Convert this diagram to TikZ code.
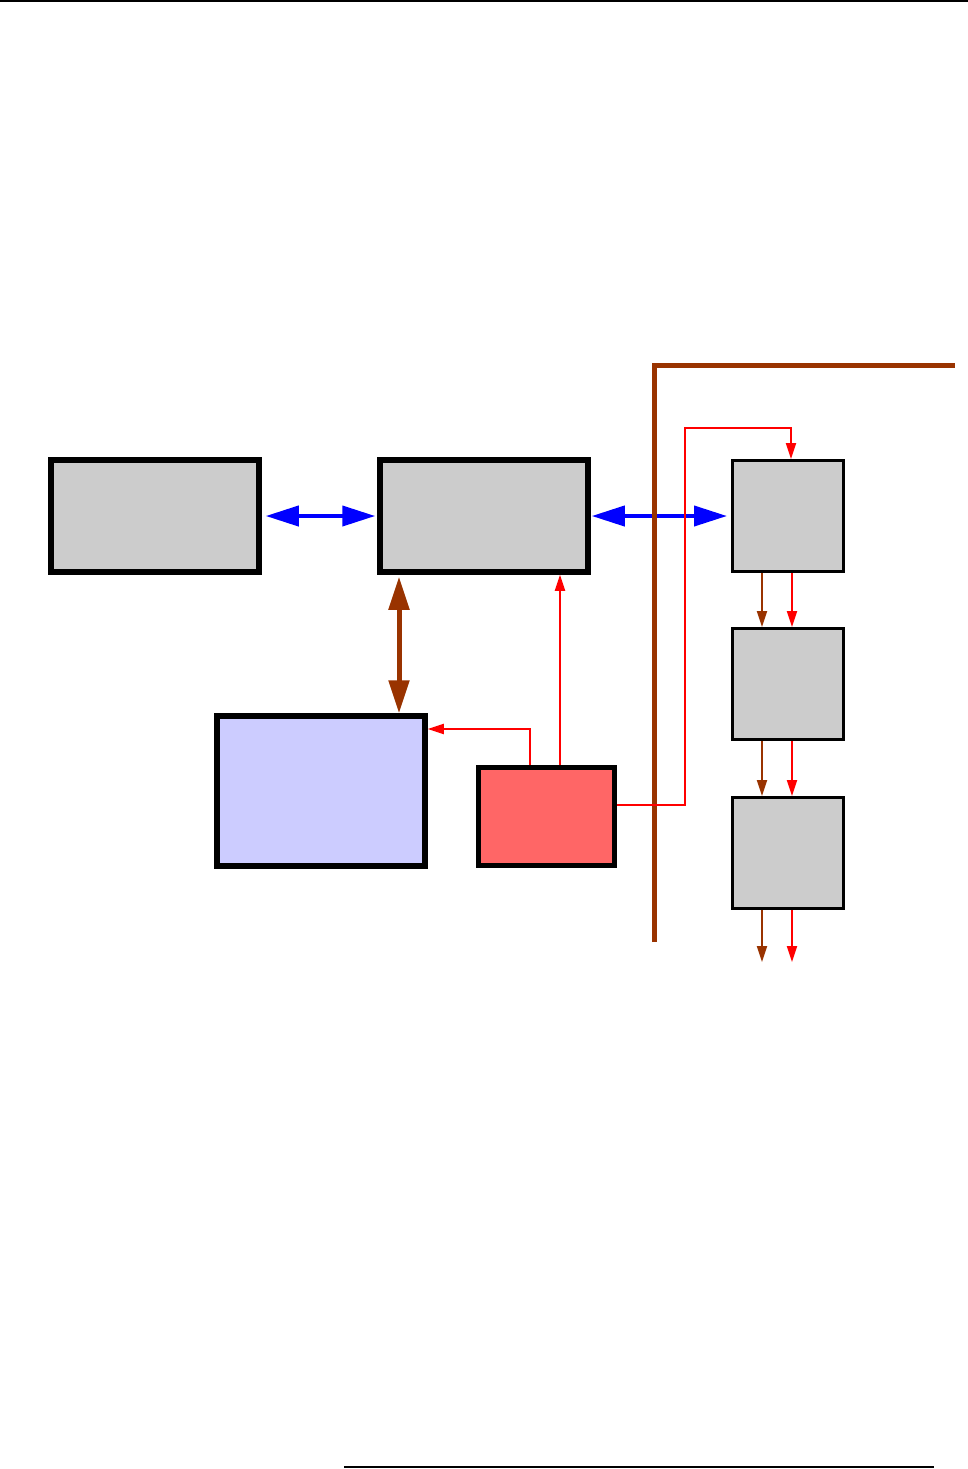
\documentclass[tikz,border=0pt]{standalone}
\usepackage{tkz-euclide}
\usetikzlibrary{arrows.meta,calc}

\definecolor{rust}{HTML}{993300}
\definecolor{boxgrey}{HTML}{CCCCCC}
\definecolor{boxblue}{HTML}{CCCCFF}
\definecolor{boxred}{HTML}{FF6666}

\begin{document}
\begin{tikzpicture}[x=0.5pt,y=-0.5pt,
  bigbox/.style={draw=black,line width=2.75pt,inner sep=0pt,
    minimum width=104pt,minimum height=56pt},
  slotbox/.style={draw=black,line width=1.5pt,fill=boxgrey,inner sep=0pt,
    minimum width=55.5pt,minimum height=55.5pt},
  busarrow/.style={draw=blue,line width=2pt,
    {Triangle[length=16.5pt,width=10pt]}-{Triangle[length=16.5pt,width=10pt]}},
  rustarrow/.style={draw=rust,line width=1pt,-{Triangle[length=8pt,width=5pt]}},
  redarrow/.style={draw=red,line width=1pt,-{Triangle[length=8pt,width=5pt]}}]
\useasboundingbox (0,0) rectangle (968,1469);

% Define the bend points and free ends.
\tkzDefPoints{399/0/BrX,530/729/RG,560/0/RB,685/805/RC1,791/428/RC2}
\tkzDefPoints{654/942/Bar1,955/365/Bar2,762/962/OutL,792/962/OutR}
\tkzDefPoints{0/1.2/T1,968/1.2/T2,344/1467/U1,934/1467/U2}

% Page rules.
\draw[line width=1.2pt] (T1) -- (T2);
\draw[line width=1.1pt] (U1) -- (U2);

% Boxes.
\node[bigbox,fill=boxgrey] (A) at (155,516) {};
\node[bigbox,fill=boxgrey] (B) at (484,516) {};
\node[bigbox,fill=boxblue,minimum height=75pt] (G) at (321,791) {};
\node[bigbox,fill=boxred,minimum width=68pt,minimum height=49pt] (F) at (546.5,816.5) {};

\node[slotbox] (C) at (788,516) {};
\node[slotbox] (D) at (788,684) {};
\node[slotbox] (E) at (788,853) {};

% Buses.
\draw[busarrow,shorten <=2pt,shorten >=1pt] (A.east) -- (B.west);
\draw[busarrow,shorten <=0.5pt,shorten >=2pt] (B.east) -- (C.west);
\draw[draw=rust,line width=2.5pt,
  {Triangle[length=16.5pt,width=10pt]}-{Triangle[length=16.5pt,width=10pt]},
  shorten <=1pt] (B.south -| BrX) -- (G.north -| BrX);

\draw[draw=rust,line width=2.5pt] (Bar1) |- (Bar2);

% Chain between the slots.
\foreach \u/\v in {C/D,D/E}{
  \draw[rustarrow] (\u.south -| OutL) -- (\v.north -| OutL);
  \draw[redarrow] (\u.south -| OutR) -- (\v.north -| OutR);
}
\draw[rustarrow] (E.south -| OutL) -- (OutL);
\draw[redarrow] (E.south -| OutR) -- (OutR);

% Control lines.
\draw[redarrow] (F.north -| RB) -- (B.south -| RB);
\draw[redarrow] (F.north -| RG) |- (G.east |- RG);
\draw[redarrow] (F.east |- RC1) -- (RC1) |- (RC2) -- (C.north -| RC2);

\end{tikzpicture}
\end{document}
